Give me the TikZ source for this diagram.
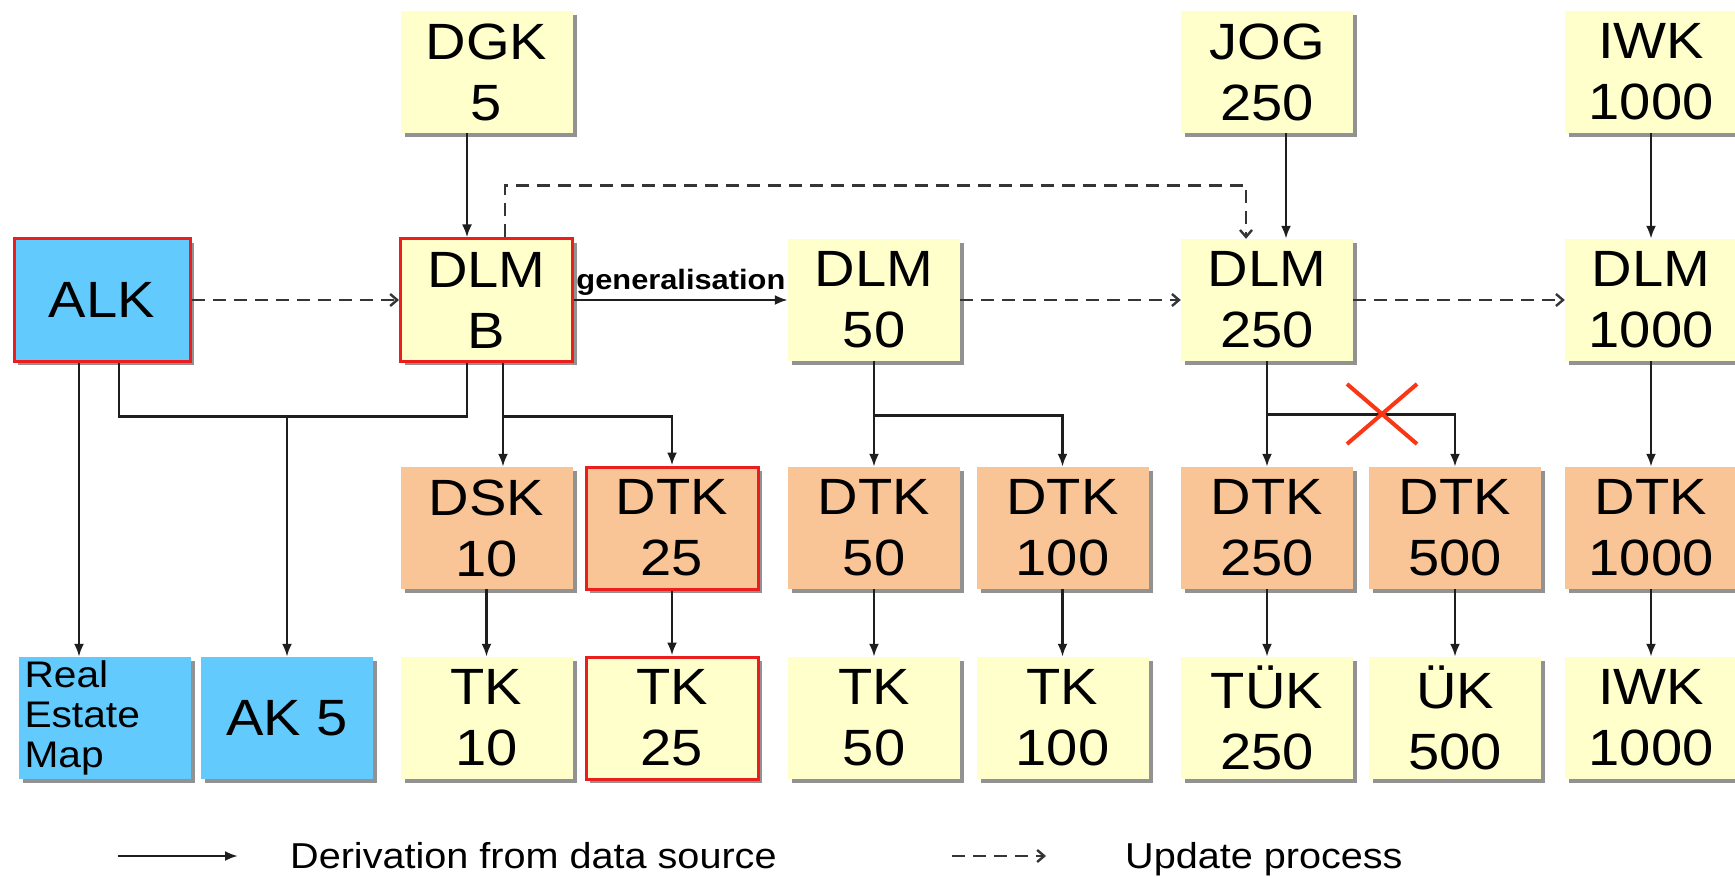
\documentclass[tikz,border=0pt]{standalone}
\usepackage{fontspec}
\setmainfont{Liberation Sans}[FakeStretch=1.1]
\usetikzlibrary{arrows.meta,shadows}

\definecolor{boxyellow}{RGB}{255,255,204}
\definecolor{boxpeach}{RGB}{250,197,150}
\definecolor{boxblue}{RGB}{98,202,252}
\definecolor{edgered}{RGB}{235,30,30}
\definecolor{crossred}{RGB}{250,55,20}
\definecolor{inkgray}{RGB}{30,30,30}

\newcommand\panelfont{\fontsize{51}{61}\selectfont}
\newcommand\mapfont{\fontsize{37}{40}\selectfont}
\newcommand\legendfont{\fontsize{36}{40}\selectfont}

\begin{document}
\begin{tikzpicture}[x=1pt,y=-1pt,
  panel/.style={minimum width=172pt, minimum height=122pt, inner sep=0pt,
    align=center, font=\panelfont, text=black,
    drop shadow={shadow xshift=4pt, shadow yshift=-4pt, fill=black!50, opacity=0.85}},
  ybox/.style={panel, fill=boxyellow},
  obox/.style={panel, fill=boxpeach},
  bbox/.style={panel, fill=boxblue},
  hot/.style={draw=edgered, line width=3pt},
  derive/.style={draw=inkgray, line width=2.6pt, -{Latex[length=13pt,width=10pt]}},
  link/.style={draw=inkgray, line width=2.6pt},
  upd/.style={draw=inkgray!90, line width=2.8pt, dash pattern=on 13pt off 8pt,
    -{Straight Barb[length=7pt,width=12pt,line width=2.4pt]}},
]
\fill[white] (0,0) rectangle (1735,877);
\clip (0,0) rectangle (1735,877);

% top row: data sources
\node[ybox] (dgk)  at (486.5,72) {DGK\\5};
\node[ybox] (jog)  at (1267,72)  {JOG\\250};
\node[ybox] (iwkt) at (1651,72)  {IWK\\1000};

% landscape models
\node[bbox,hot,minimum width=176pt] (alk) at (102,300) {ALK};
\node[ybox,hot] (dlmb)   at (486.5,300) {DLM\\B};
\node[ybox]     (dlm50)  at (874,300)   {DLM\\50};
\node[ybox]     (dlm250) at (1267,300)  {DLM\\250};
\node[ybox]     (dlm1000) at (1651,300) {DLM\\1000};

% digital topographic maps
\node[obox]     (dsk10)   at (486.5,528) {DSK\\10};
\node[obox,hot] (dtk25)   at (672,528)   {DTK\\25};
\node[obox]     (dtk50)   at (874,528)   {DTK\\50};
\node[obox]     (dtk100)  at (1062.5,528) {DTK\\100};
\node[obox]     (dtk250)  at (1267,528)  {DTK\\250};
\node[obox]     (dtk500)  at (1455,528)  {DTK\\500};
\node[obox]     (dtk1000) at (1651,528)  {DTK\\1000};

% printed maps
\node[bbox, text width=160pt, inner xsep=6pt, align=left, font=\mapfont] (rem) at (104.5,718) {Real\\Estate\\Map};
\node[bbox]     (ak5)    at (287,718)   {AK 5};
\node[ybox]     (tk10)   at (486.5,718) {TK\\10};
\node[ybox,hot] (tk25)   at (672,718)   {TK\\25};
\node[ybox]     (tk50)   at (874,718)   {TK\\50};
\node[ybox]     (tk100)  at (1062.5,718) {TK\\100};
\node[ybox]     (tuk250) at (1267,718)  {TÜK\\250};
\node[ybox]     (uk500)  at (1455,718)  {ÜK\\500};
\node[ybox]     (iwk1000) at (1651,718) {IWK\\1000};

% sources feeding the landscape models
\draw[derive] ([xshift=-19.5pt]dgk.south) -- ([xshift=-19.5pt]dlmb.north);
\draw[derive] ([xshift=19pt]jog.south) -- ([xshift=19pt]dlm250.north);
\draw[derive] (iwkt.south) -- (dlm1000.north);

% update chain
\draw[upd] (alk.east) -- (dlmb.west);
\draw[upd] ([xshift=18.5pt]dlmb.north) -- ([xshift=18.5pt,yshift=52pt]dlmb.north)
  -| ([xshift=-21pt]dlm250.north);
\draw[derive] (dlmb.east) -- node[above=3pt, inner sep=0pt, font=\fontsize{28}{30}\selectfont\bfseries] (genlabel) {generalisation} (dlm50.west);
\draw[upd] (dlm50.east) -- (dlm250.west);
\draw[upd] (dlm250.east) -- (dlm1000.west);

% ALK and DLM B towards the real estate map and AK 5
\coordinate (akbus) at (287,415);
\draw[derive] ([xshift=-23pt]alk.south) -- ([xshift=-23pt]alk.south |- rem.north);
\draw[link] ([xshift=17pt]alk.south) |- ([xshift=-19.5pt,yshift=-54pt]dlmb.south)
  -- ([xshift=-19.5pt]dlmb.south);
\draw[derive] (akbus) -- (ak5.north);

% DLM B towards DSK 10 and DTK 25
\draw[derive] ([xshift=16.5pt]dlmb.south) -- ([xshift=16.5pt]dlmb.south |- dsk10.north);
\draw[derive] ([xshift=16.5pt,yshift=-54pt]dlmb.south) -| (dtk25.north);

% DLM 50 towards DTK 50 and DTK 100
\draw[derive] (dlm50.south) -- (dtk50.north);
\draw[derive] ([yshift=-54pt]dlm50.south) -| (dtk100.north);

% DLM 250 towards DTK 250 and DTK 500, the latter branch crossed out
\draw[derive] (dlm250.south) -- (dtk250.north);
\draw[derive] ([yshift=-53pt]dlm250.south) -| (dtk500.north);
\draw[crossred, line width=4pt] (1347,384) -- (1417,444) (1347,444) -- (1417,384);

% DLM 1000 chain
\draw[derive] (dlm1000.south) -- (dtk1000.north);

% digital maps to printed maps
\draw[derive] (dsk10.south) -- (tk10.north);
\draw[derive] (dtk25.south) -- (tk25.north);
\draw[derive] (dtk50.south) -- (tk50.north);
\draw[derive] (dtk100.south) -- (tk100.north);
\draw[derive] (dtk250.south) -- (tuk250.north);
\draw[derive] (dtk500.south) -- (uk500.north);
\draw[derive] (dtk1000.south) -- (iwk1000.north);

% legend
\coordinate (legsolidA) at (118,856);
\coordinate (legsolidB) at (238,856);
\coordinate (legdashA) at (952,856);
\coordinate (legdashB) at (1046,856);
\draw[derive] (legsolidA) -- (legsolidB);
\draw[upd] (legdashA) -- (legdashB);
\node[anchor=base west, inner sep=0pt, font=\legendfont] (legderive) at (290,868) {Derivation from data source};
\node[anchor=base west, inner sep=0pt, font=\legendfont] (legupdate) at (1125,868) {Update process};
\end{tikzpicture}
\end{document}
